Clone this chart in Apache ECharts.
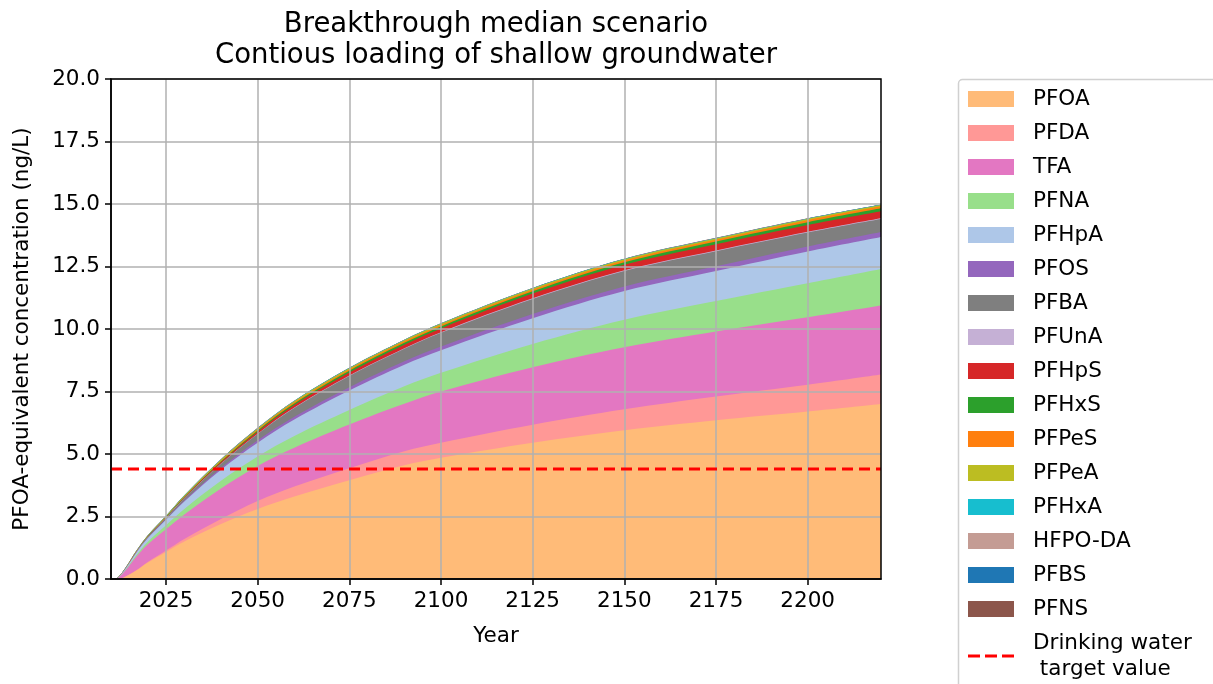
<!DOCTYPE html>
<html>
<head>
<meta charset="utf-8">
<script src="https://cdn.jsdelivr.net/npm/echarts@6/dist/echarts.min.js"></script>
<style>
  html, body { margin: 0; padding: 0; background: #fff; }
  #chart { width: 1213px; height: 684px; }
</style>
</head>
<body>
<div id="chart"></div>
<script>
// Modelled years
const years = [2010, 2011, 2012, 2014, 2017, 2020, 2025, 2030, 2040, 2050, 2060, 2075, 2090, 2100, 2125, 2150, 2175, 2200, 2220];

// PFOA-equivalent concentration per compound (ng/L), stacked in this order
const PFOA   = [0, 0, 0,     0.1,   0.35,  0.65,  1.08,  1.5,   2.2,   2.8,   3.3,   3.95,  4.55,  4.85,  5.45,  5.95,  6.35,  6.7,   7.0];
const PFDA   = [0, 0, 0,     0,     0.01,  0.03,  0.06,  0.1,   0.2,   0.32,  0.4,   0.48,  0.56,  0.6,   0.72,  0.84,  0.95,  1.07,  1.18];
const TFA    = [0, 0, 0.05,  0.25,  0.55,  0.7,   0.85,  0.98,  1.22,  1.4,   1.55,  1.75,  1.9,   2.05,  2.3,   2.48,  2.6,   2.7,   2.76];
const PFNA   = [0, 0, 0,     0.02,  0.06,  0.1,   0.16,  0.22,  0.31,  0.38,  0.47,  0.58,  0.7,   0.75,  0.93,  1.1,   1.22,  1.36,  1.46];
const PFHpA  = [0, 0, 0.01,  0.04,  0.1,   0.15,  0.22,  0.3,   0.44,  0.55,  0.66,  0.78,  0.86,  0.9,   1.03,  1.15,  1.2,   1.27,  1.28];
const PFOS   = [0, 0, 0,     0,     0.005, 0.01,  0.02,  0.04,  0.07,  0.1,   0.11,  0.13,  0.14,  0.15,  0.17,  0.18,  0.19,  0.2,   0.2];
const PFBA   = [0, 0, 0.01,  0.02,  0.03,  0.04,  0.05,  0.09,  0.17,  0.25,  0.35,  0.45,  0.5,   0.55,  0.6,   0.62,  0.6,   0.56,  0.52];
const PFUnA  = [0, 0, 0,     0,     0,     0,     0.005, 0.008, 0.012, 0.015, 0.018, 0.02,  0.022, 0.024, 0.026, 0.028, 0.03,  0.03,  0.03];
const PFHpS  = [0, 0, 0,     0,     0.005, 0.01,  0.015, 0.025, 0.05,  0.08,  0.1,   0.12,  0.14,  0.15,  0.19,  0.22,  0.25,  0.27,  0.28];
const PFHxS  = [0, 0, 0,     0,     0.004, 0.006, 0.01,  0.015, 0.03,  0.05,  0.06,  0.07,  0.075, 0.08,  0.09,  0.1,   0.11,  0.115, 0.12];
const PFPeS  = [0, 0, 0,     0.002, 0.004, 0.006, 0.01,  0.015, 0.03,  0.04,  0.05,  0.055, 0.06,  0.06,  0.065, 0.07,  0.075, 0.08,  0.08];
const PFPeA  = [0, 0, 0.01,  0.02,  0.02,  0.025, 0.03,  0.035, 0.04,  0.04,  0.045, 0.045, 0.045, 0.05,  0.05,  0.05,  0.05,  0.05,  0.05];
const PFHxA  = [0, 0, 0,     0.003, 0.005, 0.006, 0.008, 0.008, 0.009, 0.01,  0.01,  0.01,  0.01,  0.01,  0.01,  0.01,  0.01,  0.01,  0.01];
const HFPODA = [0, 0, 0,     0.002, 0.003, 0.004, 0.004, 0.005, 0.005, 0.005, 0.005, 0.005, 0.005, 0.005, 0.005, 0.005, 0.005, 0.005, 0.005];
const PFBS   = [0, 0, 0,     0.001, 0.002, 0.003, 0.003, 0.004, 0.004, 0.004, 0.004, 0.004, 0.004, 0.004, 0.004, 0.004, 0.004, 0.004, 0.004];
const PFNS   = [0, 0, 0,     0,     0.001, 0.001, 0.002, 0.002, 0.002, 0.002, 0.002, 0.002, 0.002, 0.002, 0.002, 0.002, 0.002, 0.002, 0.002];

// Drinking water target value (ng/L PFOA-equivalent)
const TARGET = 4.4;
const TARGET_NAME = 'Drinking water target value';

// Axis settings
const YEAR_MIN = 2010;
const YEAR_MAX = 2220;
const YEAR_TICKS = [2025, 2050, 2075, 2100, 2125, 2150, 2175, 2200];

const compounds = [
  { name: 'PFOA',    values: PFOA,   color: '#ffbb78' },
  { name: 'PFDA',    values: PFDA,   color: '#ff9896' },
  { name: 'TFA',     values: TFA,    color: '#e377c2' },
  { name: 'PFNA',    values: PFNA,   color: '#98df8a' },
  { name: 'PFHpA',   values: PFHpA,  color: '#aec7e8' },
  { name: 'PFOS',    values: PFOS,   color: '#9467bd' },
  { name: 'PFBA',    values: PFBA,   color: '#7f7f7f' },
  { name: 'PFUnA',   values: PFUnA,  color: '#c5b0d5' },
  { name: 'PFHpS',   values: PFHpS,  color: '#d62728' },
  { name: 'PFHxS',   values: PFHxS,  color: '#2ca02c' },
  { name: 'PFPeS',   values: PFPeS,  color: '#ff7f0e' },
  { name: 'PFPeA',   values: PFPeA,  color: '#bcbd22' },
  { name: 'PFHxA',   values: PFHxA,  color: '#17becf' },
  { name: 'HFPO-DA', values: HFPODA, color: '#c49c94' },
  { name: 'PFBS',    values: PFBS,   color: '#1f77b4' },
  { name: 'PFNS',    values: PFNS,   color: '#8c564b' }
];

const FONT = 'DejaVu Sans';
const FS = 21.5;

// Running totals: each band is the area between its own cumulative curve and
// the one below it. Bands are painted top-down, each filled to zero, so every
// lower band covers the part of the upper ones that lies beneath it.
const cumulative = [];
compounds.forEach((c, k) => {
  cumulative.push(years.map((_, i) => (k ? cumulative[k - 1][i] : 0) + c.values[i]));
});

const areaSeries = compounds.map((c, k) => ({
  name: c.name,
  type: 'line',
  smooth: 0.35,
  symbol: 'none',
  showSymbol: false,
  color: c.color,
  lineStyle: { width: 0, color: c.color },
  areaStyle: { color: c.color, opacity: 1 },
  emphasis: { disabled: true },
  z: 2,
  data: years.map((y, i) => [y, cumulative[k][i]])
})).reverse();

const targetSeries = {
  name: TARGET_NAME,
  type: 'line',
  symbol: 'none',
  showSymbol: false,
  color: '#ff0000',
  lineStyle: { color: '#ff0000', width: 3, type: [11, 6] },
  z: 6,
  data: [[YEAR_MIN, TARGET], [YEAR_MAX, TARGET]]
};

// Three short dashes; the leading moves pin the icon box to 46 x 16
const DASH_ICON = 'path://M0,0M46,16M0,6.5h12v3h-12z M17,6.5h12v3h-12z M34,6.5h12v3h-12z';

const chart = echarts.init(document.getElementById('chart'), null, { renderer: 'canvas' });

chart.setOption({
  animation: false,
  backgroundColor: '#ffffff',
  textStyle: { fontFamily: FONT },
  grid: {
    left: 111, top: 79, width: 770, height: 500,
    show: true, borderColor: '#000', borderWidth: 1.5,
    backgroundColor: 'transparent', z: 8
  },
  graphic: [
    {
      type: 'text',
      x: 496, y: 9,
      style: {
        text: 'Breakthrough median scenario\nContious loading of shallow groundwater',
        align: 'center',
        verticalAlign: 'top',
        fontSize: 27.5,
        lineHeight: 31,
        fontFamily: FONT,
        fill: '#000'
      }
    },
    {
      type: 'rect',
      shape: { x: 958.5, y: 79.5, width: 320, height: 640, r: 4 },
      style: { fill: 'none', stroke: '#d0d0d0', lineWidth: 1.5 },
      z: 1
    }
  ],
  legend: {
    orient: 'vertical',
    left: 968,
    top: 86,
    height: 640,
    itemWidth: 46,
    itemHeight: 16,
    itemGap: 8,
    padding: 0,
    selectedMode: false,
    textStyle: {
      fontFamily: FONT, fontSize: FS, color: '#000', lineHeight: 26,
      padding: [0, 0, 0, 14]
    },
    formatter: name => name === TARGET_NAME ? 'Drinking water\n target value' : name,
    data: compounds.map(c => ({ name: c.name, icon: 'rect' }))
      .concat([{ name: TARGET_NAME, icon: DASH_ICON }])
  },
  xAxis: {
    type: 'value',
    min: YEAR_MIN,
    max: YEAR_MAX,
    z: 4,
    name: 'Year',
    nameLocation: 'middle',
    nameGap: 46,
    nameTextStyle: { fontFamily: FONT, fontSize: FS, color: '#000' },
    axisLine: { show: true, onZero: false, lineStyle: { color: '#000', width: 1.5 } },
    axisTick: { show: true, customValues: YEAR_TICKS, length: 6, inside: false, lineStyle: { color: '#000', width: 1.5 } },
    axisLabel: {
      customValues: YEAR_TICKS, margin: 11, fontFamily: FONT, fontSize: FS, color: '#000',
      formatter: v => String(v)
    },
    splitLine: { show: true, lineStyle: { color: '#b0b0b0', width: 1.5 } }
  },
  yAxis: {
    type: 'value',
    min: 0,
    max: 20,
    interval: 2.5,
    z: 4,
    name: 'PFOA-equivalent concentration (ng/L)',
    nameLocation: 'middle',
    nameGap: 78,
    nameTextStyle: { fontFamily: FONT, fontSize: FS, color: '#000' },
    axisLine: { show: true, lineStyle: { color: '#000', width: 1.5 } },
    axisTick: { show: true, length: 6, inside: false, lineStyle: { color: '#000', width: 1.5 } },
    axisLabel: { margin: 11, fontFamily: FONT, fontSize: FS, color: '#000', formatter: v => v.toFixed(1) },
    splitLine: { show: true, lineStyle: { color: '#b0b0b0', width: 1.5 } }
  },
  series: areaSeries.concat([targetSeries])
});
</script>
</body>
</html>
